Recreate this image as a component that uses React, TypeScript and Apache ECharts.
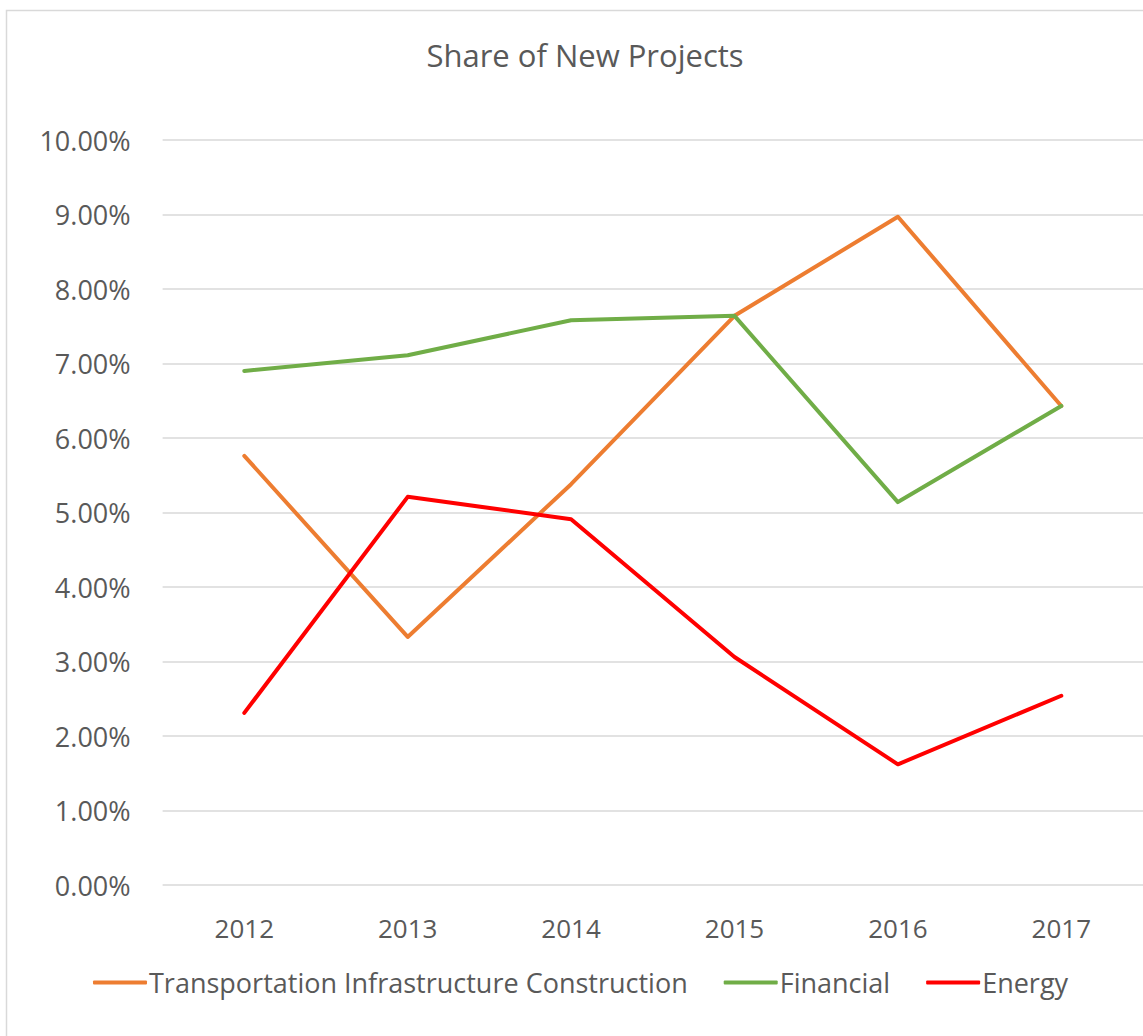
import React, { useEffect, useRef } from "react";
import * as echarts from "echarts";

const years = ["2012", "2013", "2014", "2015", "2016", "2017"];
const transportation = [5.76, 3.33, 5.38, 7.64, 8.97, 6.43];
const financial = [6.9, 7.11, 7.58, 7.64, 5.14, 6.43];
const energy = [2.31, 5.21, 4.91, 3.06, 1.62, 2.54];
const seriesNames = ["Transportation Infrastructure Construction", "Financial", "Energy"];
const colors = ["#ED7D31", "#70AD47", "#FF0000"];

const FONT = "'Open Sans', sans-serif";
const TEXT = "#595959";

export default function App() {
  const ref = useRef<HTMLDivElement>(null);
  useEffect(() => {
    if (!ref.current) return;
    const chart = echarts.init(ref.current, undefined, { renderer: "svg" });
    const datas = [transportation, financial, energy];
    chart.setOption({
      animation: false,
      backgroundColor: "#ffffff",
      title: {
        text: "Share of New Projects",
        left: 580,
        textAlign: "center",
        top: 34,
        textStyle: { fontFamily: FONT, fontSize: 31, fontWeight: "normal", color: TEXT },
      },
      graphic: [
        {
          type: "rect",
          shape: { x: 6.5, y: 10.5, width: 1300, height: 1200 },
          style: { fill: "none", stroke: "#d9d9d9", lineWidth: 1.5 },
          silent: true,
        },
      ],
      legend: {
        left: 88,
        top: 964,
        itemWidth: 54,
        itemHeight: 4,
        itemGap: 36,
        icon: "roundRect",
        textStyle: { fontFamily: FONT, fontSize: 27, color: TEXT, padding: [0, 0, 0, -3] },
        data: seriesNames,
      },
      grid: { left: 162.6, top: 140, width: 988.8, height: 745, containLabel: false },
      xAxis: {
        type: "category",
        data: years,
        boundaryGap: true,
        axisLine: { show: false },
        axisTick: { show: false },
        axisLabel: { fontFamily: FONT, fontSize: 26, color: TEXT, margin: 30 },
        splitLine: { show: false },
      },
      yAxis: {
        type: "value",
        min: 0,
        max: 10,
        interval: 1,
        axisLine: { show: false },
        axisTick: { show: false },
        axisLabel: {
          fontFamily: FONT,
          fontSize: 27,
          color: TEXT,
          margin: 32,
          formatter: (v: number) => v.toFixed(2) + "%",
        },
        splitLine: { show: true, lineStyle: { color: "#d9d9d9", width: 1.5 } },
      },
      series: seriesNames.map((name, i) => ({
        name,
        type: "line",
        data: datas[i],
        showSymbol: false,
        symbol: "none",
        color: colors[i],
        lineStyle: { width: 4, color: colors[i], cap: "round", join: "round" },
      })),
    });
    return () => chart.dispose();
  }, []);
  return (
    <div
      ref={ref}
      style={{ position: "absolute", left: 0, top: 0, width: 1143, height: 1036 }}
    />
  );
}
